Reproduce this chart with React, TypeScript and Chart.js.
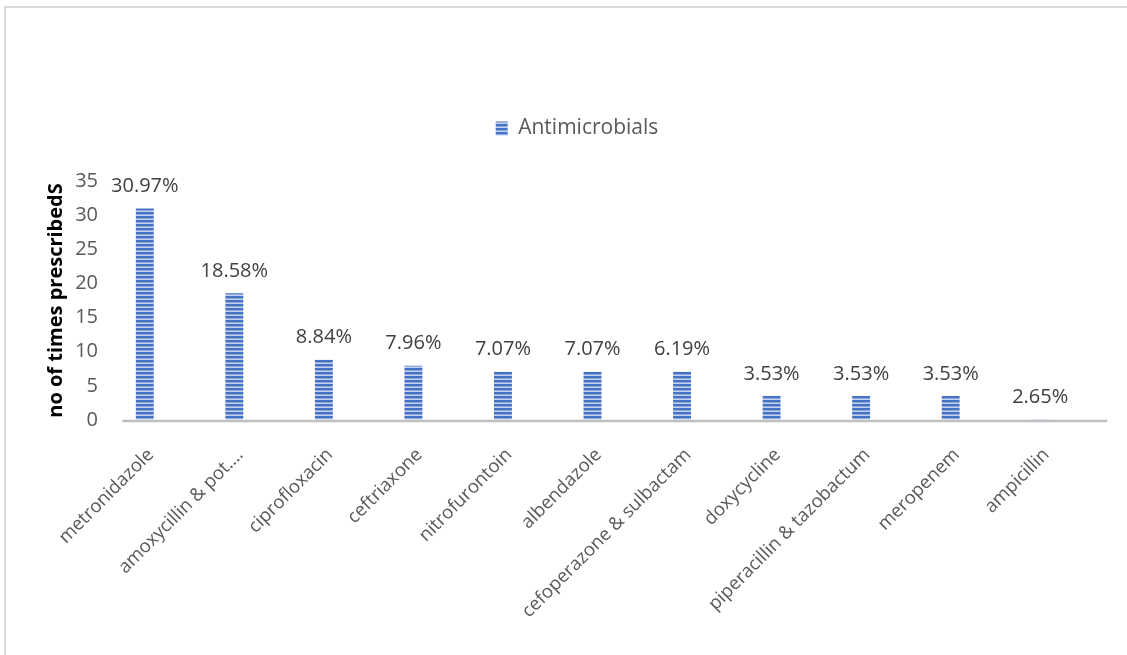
import React, { useEffect, useRef } from "react";
import { Chart, registerables } from "chart.js";

Chart.register(...registerables);

const categories = [
  "metronidazole",
  "amoxycillin & pot….",
  "ciprofloxacin",
  "ceftriaxone",
  "nitrofurontoin",
  "albendazole",
  "cefoperazone & sulbactam",
  "doxycycline",
  "piperacillin & tazobactum",
  "meropenem",
  "ampicillin",
];
const barValues = [30.97, 18.58, 8.84, 7.96, 7.07, 7.07, 7.07, 3.53, 3.53, 3.53, 0.15];
const percentLabels = ["30.97%", "18.58%", "8.84%", "7.96%", "7.07%", "7.07%", "6.19%", "3.53%", "3.53%", "3.53%", "2.65%"];
const yMin = 0;
const yMax = 35;
const yStep = 5;
const seriesName = "Antimicrobials";
const yTitle = "no of times prescribedS";

const FONT = "'Open Sans', 'DejaVu Sans', sans-serif";

function makePattern(): CanvasPattern | string {
  const c = document.createElement("canvas");
  c.width = 4;
  c.height = 4;
  const g = c.getContext("2d");
  if (!g) return "#4472C4";
  g.fillStyle = "#4472C4";
  g.fillRect(0, 0, 4, 2);
  g.fillStyle = "#8fa9dc";
  g.fillRect(0, 2, 4, 1);
  g.fillStyle = "#c3d1ee";
  g.fillRect(0, 3, 4, 1);
  const p = g.createPattern(c, "repeat");
  return p || "#4472C4";
}

const pctLabelPlugin = {
  id: "pctLabels",
  afterDatasetsDraw(chart: any) {
    const meta = chart.getDatasetMeta(0);
    const ctx = chart.ctx;
    ctx.save();
    ctx.font = `20px ${FONT}`;
    ctx.fillStyle = "#404040";
    ctx.textAlign = "center";
    ctx.textBaseline = "middle";
    meta.data.forEach((bar: any, i: number) => {
      ctx.fillText(percentLabels[i], bar.x, bar.y - 22);
    });
    ctx.restore();
  },
};

// category axis line (drawn slightly shifted to the right, as in the original)
const axisLinePlugin = {
  id: "axisLine",
  beforeDatasetsDraw(chart: any) {
    const { ctx, chartArea } = chart;
    const xs = chart.scales.x;
    const step = xs.width / categories.length;
    ctx.save();
    ctx.strokeStyle = "#bfbfbf";
    ctx.lineWidth = 2.5;
    ctx.beginPath();
    ctx.moveTo(chartArea.left + step * 0.25, chartArea.bottom + 1);
    ctx.lineTo(chartArea.right + step * 0.25, chartArea.bottom + 1);
    ctx.stroke();
    ctx.restore();
  },
};

export default function App() {
  const ref = useRef<HTMLCanvasElement | null>(null);

  useEffect(() => {
    if (!ref.current) return;
    const pattern = makePattern();
    const chart = new Chart(ref.current, {
      type: "bar",
      data: {
        labels: categories,
        datasets: [
          {
            label: seriesName,
            data: barValues,
            backgroundColor: pattern as any,
            borderWidth: 0,
            barPercentage: 0.2,
            categoryPercentage: 1.0,
          },
        ],
      },
      options: {
        animation: false,
        responsive: true,
        maintainAspectRatio: false,
        layout: { padding: { left: 69, right: 42, top: 45, bottom: 0 } },
        plugins: {
          legend: {
            position: "top",
            align: "center",
            labels: {
              boxWidth: 12,
              boxHeight: 14,
              padding: 73,
              color: "#595959",
              font: { family: FONT, size: 21 },
            },
          },
          // empty spacer between the legend and the plot
          subtitle: {
            display: true,
            text: "",
            position: "top",
            weight: 500,
            font: { family: FONT, size: 10, lineHeight: 1.2 },
            padding: { top: 0, bottom: 20 },
          } as any,
          tooltip: { enabled: false },
        },
        scales: {
          x: {
            grid: { display: true, drawOnChartArea: false, drawTicks: false },
            border: { display: false },
            ticks: {
              autoSkip: false,
              minRotation: 45,
              maxRotation: 45,
              color: "#595959",
              font: { family: FONT, size: 18.5 },
              padding: 24,
              labelOffset: 6,
            },
            afterFit: (s: any) => {
              s.height = 235;
            },
          },
          y: {
            min: yMin,
            max: yMax,
            ticks: {
              stepSize: yStep,
              color: "#595959",
              font: { family: FONT, size: 20 },
              padding: 2,
            },
            grid: { display: true, drawOnChartArea: false, drawTicks: false },
            border: { display: false },
            title: {
              display: true,
              text: yTitle,
              color: "#000000",
              font: { family: FONT, size: 20, weight: "bold" },
              padding: { top: -25, bottom: 0 },
            },
            afterFit: (s: any) => {
              s.width = 31;
            },
          },
        },
      },
      plugins: [axisLinePlugin, pctLabelPlugin],
    });
    return () => chart.destroy();
  }, []);

  return (
    <div style={{ position: "absolute", left: 0, top: 0, width: 1127, height: 655, overflow: "hidden", background: "#ffffff" }}>
      <div
        style={{
          position: "absolute",
          left: 4,
          top: 6,
          width: 1123,
          height: 649,
          boxSizing: "border-box",
          borderLeft: "2px solid #d9d9d9",
          borderTop: "2px solid #d9d9d9",
        }}
      />
      <div style={{ position: "absolute", left: 0, top: 0, width: 1127, height: 655 }}>
        <canvas ref={ref} />
      </div>
    </div>
  );
}
